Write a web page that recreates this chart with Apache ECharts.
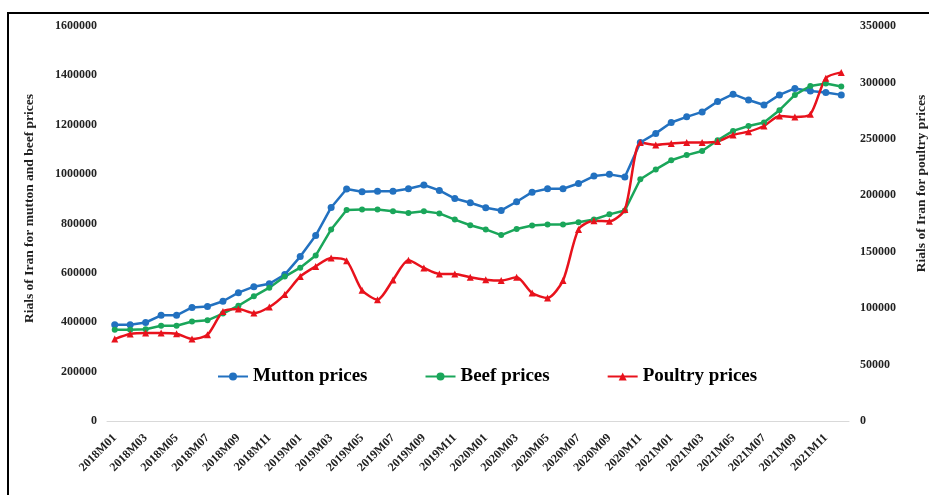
<!DOCTYPE html>
<html>
<head>
<meta charset="utf-8">
<style>
  html, body { margin: 0; padding: 0; background: #fff; }
  #chart { width: 929px; height: 495px; }
</style>
<script src="https://cdn.jsdelivr.net/npm/echarts@6/dist/echarts.min.js"></script>
</head>
<body>
<div id="chart"></div>
<script>
// months on the x axis
var months = [
  '2018M01','2018M02','2018M03','2018M04','2018M05','2018M06','2018M07','2018M08','2018M09','2018M10','2018M11','2018M12',
  '2019M01','2019M02','2019M03','2019M04','2019M05','2019M06','2019M07','2019M08','2019M09','2019M10','2019M11','2019M12',
  '2020M01','2020M02','2020M03','2020M04','2020M05','2020M06','2020M07','2020M08','2020M09','2020M10','2020M11','2020M12',
  '2021M01','2021M02','2021M03','2021M04','2021M05','2021M06','2021M07','2021M08','2021M09','2021M10','2021M11','2021M12'
];
// left axis (rials)
var mutton = [
  390000, 390000, 399000, 428000, 428000, 460000, 464000, 485000, 520000, 544000, 556000, 593000,
  666000, 751000, 865000, 940000, 929000, 931000, 931000, 941000, 956000, 934000, 901000, 884000,
  864000, 853000, 888000, 927000, 941000, 941000, 962000, 992000, 999000, 988000, 1128000, 1165000,
  1209000, 1232000, 1252000, 1294000, 1324000, 1300000, 1280000, 1321000, 1347000, 1337000, 1331000, 1321000
];
var beef = [
  370000, 370000, 372000, 386000, 386000, 403000, 408000, 435000, 467000, 505000, 540000, 585000,
  621000, 670000, 776000, 855000, 857000, 857000, 850000, 843000, 850000, 841000, 816000, 793000,
  776000, 753000, 778000, 792000, 796000, 796000, 805000, 816000, 837000, 853000, 979000, 1019000,
  1056000, 1077000, 1094000, 1137000, 1175000, 1195000, 1209000, 1259000, 1321000, 1357000, 1367000, 1355000
];
// right axis (rials)
var poultry = [
  72600, 77000, 77900, 77900, 77300, 72600, 76400, 97000, 99200, 95600, 101000, 112000,
  128000, 137000, 144500, 142000, 115800, 107500, 125000, 142400, 135600, 130300, 130300, 127300,
  125200, 124400, 127300, 113400, 109000, 124600, 169700, 177500, 177000, 187400, 246700, 244600,
  245800, 246700, 246700, 247600, 253500, 256400, 261400, 270300, 269400, 271800, 303800, 308900
];
var leftTicks = { min: 0, max: 1600000, step: 200000 };
var rightTicks = { min: 0, max: 350000, step: 50000 };

var serif = '"Liberation Serif", "Times New Roman", serif';

// plain numbers, no thousands separator
function plain(v) { return String(v); }

var myChart = echarts.init(document.getElementById('chart'));
var option = {
  animation: false,
  backgroundColor: '#fff',
  graphic: [{
    type: 'rect',
    shape: { x: 8, y: 13, width: 1000, height: 1000 },
    style: { fill: 'none', stroke: '#000', lineWidth: 2 }
  }],
  grid: { left: 107, right: 80, top: 26, bottom: 74, outerBoundsMode: 'none' },
  legend: {
    left: 212,
    top: 362,
    itemGap: 57,
    itemWidth: 30,
    itemHeight: 10,
    textStyle: { fontFamily: serif, fontWeight: 'bold', fontSize: 19, color: '#000' },
    data: ['Mutton prices', 'Beef prices', 'Poultry prices']
  },
  xAxis: {
    type: 'category',
    data: months,
    boundaryGap: true,
    axisLine: { lineStyle: { color: '#d9d9d9', width: 1 } },
    axisTick: { show: false },
    axisLabel: {
      interval: 1,
      rotate: 45,
      margin: 15,
      fontFamily: serif,
      fontWeight: 'bold',
      fontSize: 12,
      color: '#222'
    }
  },
  yAxis: [{
    type: 'value',
    name: 'Rials of Iran for mutton and beef prices',
    nameLocation: 'middle',
    nameRotate: 90,
    nameGap: 70,
    nameTextStyle: { fontFamily: serif, fontWeight: 'bold', fontSize: 13.5, color: '#222', padding: [0, 0, 0, 30] },
    min: leftTicks.min,
    max: leftTicks.max,
    interval: leftTicks.step,
    axisLine: { show: false },
    axisTick: { show: false },
    splitLine: { show: false },
    axisLabel: { margin: 10, formatter: plain, fontFamily: serif, fontWeight: 'bold', fontSize: 12, color: '#222' }
  }, {
    type: 'value',
    position: 'right',
    name: 'Rials of Iran for poultry prices',
    nameLocation: 'middle',
    nameRotate: 90,
    nameGap: 66,
    nameTextStyle: { fontFamily: serif, fontWeight: 'bold', fontSize: 13.5, color: '#222', padding: [0, 0, 0, 80] },
    min: rightTicks.min,
    max: rightTicks.max,
    interval: rightTicks.step,
    axisLine: { show: false },
    axisTick: { show: false },
    splitLine: { show: false },
    axisLabel: { margin: 11, formatter: plain, fontFamily: serif, fontWeight: 'bold', fontSize: 12, color: '#222' }
  }],
  series: [{
    name: 'Mutton prices',
    type: 'line',
    yAxisIndex: 0,
    data: mutton,
    symbol: 'circle',
    symbolSize: 7,
    color: '#2271c0',
    lineStyle: { width: 2.5 }
  }, {
    name: 'Beef prices',
    type: 'line',
    yAxisIndex: 0,
    data: beef,
    symbol: 'circle',
    symbolSize: 6,
    color: '#1aa65a',
    lineStyle: { width: 2.5 }
  }, {
    name: 'Poultry prices',
    type: 'line',
    yAxisIndex: 1,
    data: poultry,
    symbol: 'triangle',
    symbolSize: 7,
    smooth: 0.25,
    color: '#e8121c',
    lineStyle: { width: 2.5 },
    z: 3
  }]
};
myChart.setOption(option);
</script>
</body>
</html>
